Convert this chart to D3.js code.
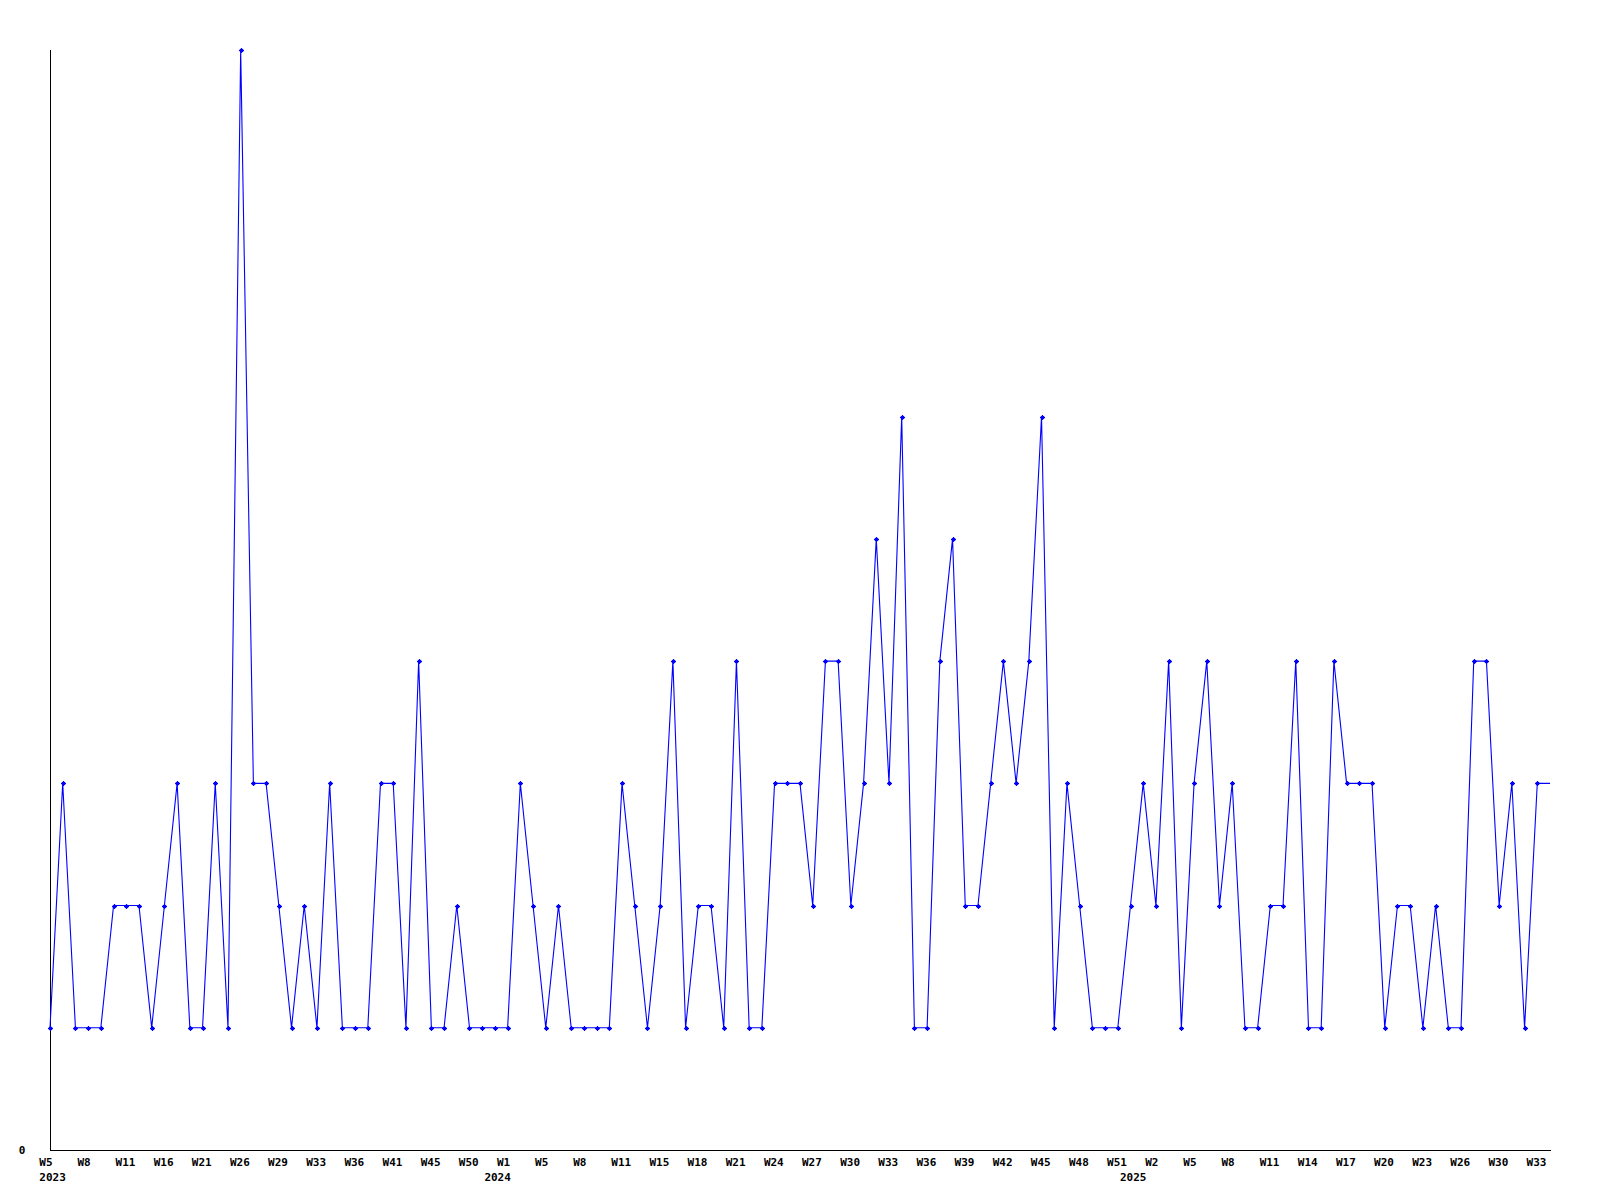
<!DOCTYPE html>
<html>
<head>
<meta charset="utf-8">
<script src="https://cdn.jsdelivr.net/npm/d3@7"></script>
<style>
  html, body { margin: 0; padding: 0; background: #ffffff; }
  svg { display: block; }
  text { font-family: "DejaVu Sans Mono", "Liberation Mono", monospace; font-weight: bold; font-size: 11px; fill: #000; }
</style>
</head>
<body>
<svg id="chart" width="1600" height="1200"></svg>
<script>
// weekly counts, one per plotted week (2023 W5 .. 2025 W34)
const values = [
  1,3,1,1,1,2,2,2,1,2,
  3,1,1,3,1,9,3,3,2,1,
  2,1,3,1,1,1,3,3,1,4,
  1,1,2,1,1,1,1,3,2,1,
  2,1,1,1,1,3,2,1,2,4,
  1,2,2,1,4,1,1,3,3,3,
  2,4,4,2,3,5,3,6,1,1,
  4,5,2,2,3,4,3,4,6,1,
  3,2,1,1,1,2,3,2,4,1,
  3,4,2,3,1,1,2,2,4,1,
  1,4,3,3,3,1,2,2,1,2,
  1,1,4,4,2,3,1,3,3
];
// x tick labels, shown on every 3rd week
const tickLabels = [
  "W5","W8","W11","W16","W21","W26","W29","W33","W36","W41","W45","W50","W1",
  "W5","W8","W11","W15","W18","W21","W24","W27","W30","W33","W36","W39","W42","W45",
  "W48","W51","W2","W5","W8","W11","W14","W17","W20","W23","W26","W30","W33"
];
const tickStep = 3;
const yearLabels = ["2023", "2024", "2025"];
const yearIndex = [0, 36, 86];
const yTickLabels = ["0"];

(function () {
const svg = d3.select("#chart");
const mLeft = 50, mRight = 1550, mTop = 50, mBottom = 1150;

const x = d3.scaleLinear().domain([0, values.length - 1]).range([mLeft, mRight]);
const y = d3.scaleLinear().domain([0, d3.max(values)]).range([mBottom, mTop]);

// axes
const g = svg.append("g");
g.append("line")
  .attr("x1", mLeft + 0.5).attr("x2", mLeft + 0.5)
  .attr("y1", y(d3.max(values))).attr("y2", mBottom + 0.5)
  .attr("stroke", "#000").attr("stroke-width", 1).attr("shape-rendering", "crispEdges");
g.append("line")
  .attr("x1", mLeft).attr("x2", mRight + 0.5)
  .attr("y1", mBottom + 0.5).attr("y2", mBottom + 0.5)
  .attr("stroke", "#000").attr("stroke-width", 1).attr("shape-rendering", "crispEdges");

// y label
g.selectAll("text.ylab").data(yTickLabels).enter().append("text")
  .attr("class", "ylab")
  .attr("x", 22).attr("y", d => y(+d) + 4)
  .attr("text-anchor", "middle")
  .text(d => d);

// x tick labels
g.selectAll("text.xlab").data(tickLabels).enter().append("text")
  .attr("class", "xlab")
  .attr("x", (d, i) => x(i * tickStep) - 10.7)
  .attr("y", mBottom + 16)
  .attr("text-anchor", "start")
  .text(d => d);

// year labels
g.selectAll("text.year").data(yearLabels).enter().append("text")
  .attr("class", "year")
  .attr("x", (d, i) => i === 0 ? x(yearIndex[i]) - 10.7 : x(yearIndex[i]) - 10)
  .attr("y", mBottom + 31)
  .attr("text-anchor", (d, i) => i === 0 ? "start" : "middle")
  .text(d => d);

// line
const line = d3.line().x((d, i) => x(i)).y(d => y(d));
svg.append("path")
  .datum(values)
  .attr("d", line)
  .attr("fill", "none")
  .attr("stroke", "#0000ff")
  .attr("stroke-width", 1.1);

// markers (last, partial week drawn without marker)
const mk = svg.append("g").attr("fill", "#0000ff").attr("stroke", "#0000ff");
const pts = values.slice(0, values.length - 1);
mk.selectAll("path.mark").data(pts).enter().append("path")
  .attr("class", "mark")
  .attr("d", (d, i) => {
    const cx = Math.round(x(i)) + 0.5, cy = Math.round(y(d)) + 0.5;
    return `M${cx - 2.5},${cy}H${cx + 2.5}M${cx},${cy - 2.5}V${cy + 2.5}`;
  })
  .attr("stroke-width", 1.3)
  .attr("fill", "none");
mk.selectAll("rect.mark").data(pts).enter().append("rect")
  .attr("class", "mark")
  .attr("x", (d, i) => Math.round(x(i)) - 1)
  .attr("y", d => Math.round(y(d)) - 1)
  .attr("width", 3).attr("height", 3)
  .attr("stroke", "none");
})();
</script>
</body>
</html>
